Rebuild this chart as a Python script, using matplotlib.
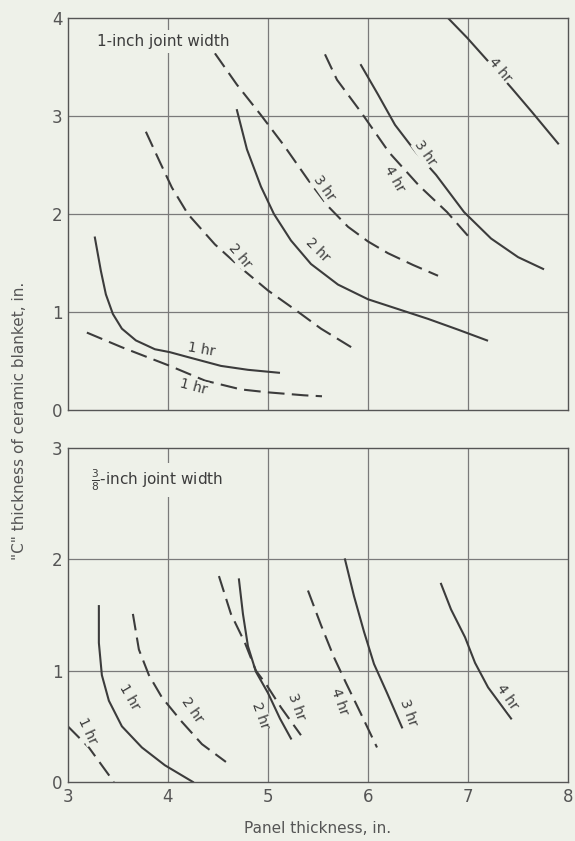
import numpy as np
import matplotlib
matplotlib.use("Agg")
import matplotlib.pyplot as plt

# ---- 1-inch joint width (top panel) ----
top_1hr_solid_x = [3.27, 3.33, 3.38, 3.45, 3.54, 3.68, 3.87, 4.02, 4.20, 4.53, 4.80, 5.11]
top_1hr_solid_y = [1.76, 1.42, 1.18, 0.98, 0.83, 0.71, 0.62, 0.59, 0.54, 0.45, 0.41, 0.38]
top_1hr_dash_x = [3.19, 3.54, 4.02, 4.37, 4.73, 5.00, 5.36, 5.54]
top_1hr_dash_y = [0.79, 0.64, 0.45, 0.30, 0.21, 0.18, 0.15, 0.14]
top_2hr_dash_x = [3.78, 3.92, 4.04, 4.20, 4.47, 4.73, 5.00, 5.29, 5.53, 5.85]
top_2hr_dash_y = [2.84, 2.53, 2.27, 2.00, 1.69, 1.45, 1.22, 1.01, 0.83, 0.63]
top_2hr_solid_x = [4.69, 4.79, 4.93, 5.06, 5.23, 5.43, 5.70, 6.00, 6.27, 6.60, 6.90, 7.19]
top_2hr_solid_y = [3.06, 2.66, 2.28, 2.00, 1.73, 1.49, 1.28, 1.13, 1.04, 0.93, 0.82, 0.71]
top_3hr_dash_x = [4.47, 4.69, 4.93, 5.16, 5.40, 5.60, 5.80, 6.00, 6.20, 6.45, 6.70]
top_3hr_dash_y = [3.64, 3.32, 3.01, 2.70, 2.35, 2.08, 1.87, 1.72, 1.60, 1.48, 1.37]
top_4hr_dash_x = [5.57, 5.69, 5.93, 6.21, 6.51, 6.79, 7.04]
top_4hr_dash_y = [3.63, 3.37, 3.04, 2.63, 2.29, 2.02, 1.73]
top_3hr_solid_x = [5.93, 6.10, 6.27, 6.48, 6.68, 6.96, 7.23, 7.50, 7.75]
top_3hr_solid_y = [3.52, 3.22, 2.91, 2.63, 2.40, 2.02, 1.75, 1.56, 1.44]
top_4hr_solid_x = [6.80, 6.99, 7.20, 7.44, 7.64, 7.90]
top_4hr_solid_y = [4.00, 3.80, 3.56, 3.28, 3.04, 2.72]

# ---- 3/8-inch joint width (bottom panel) ----
bot_1hr_dash_x = [3.00, 3.21, 3.46]
bot_1hr_dash_y = [0.50, 0.31, 0.00]
bot_1hr_solid_x = [3.31, 3.31, 3.34, 3.41, 3.54, 3.74, 3.97, 4.25]
bot_1hr_solid_y = [1.58, 1.25, 0.96, 0.73, 0.50, 0.31, 0.15, 0.00]
bot_2hr_dash_x = [3.65, 3.71, 3.81, 3.94, 4.14, 4.34, 4.58]
bot_2hr_dash_y = [1.51, 1.19, 0.96, 0.76, 0.54, 0.34, 0.18]
bot_3hr_dash_x = [4.51, 4.63, 4.77, 4.88, 4.98, 5.13, 5.33]
bot_3hr_dash_y = [1.85, 1.51, 1.25, 1.00, 0.88, 0.67, 0.42]
bot_2hr_solid_x = [4.71, 4.75, 4.80, 4.88, 5.00, 5.12, 5.23]
bot_2hr_solid_y = [1.82, 1.51, 1.22, 0.99, 0.80, 0.57, 0.39]
bot_4hr_dash_x = [5.40, 5.53, 5.66, 5.78, 5.92, 6.09]
bot_4hr_dash_y = [1.72, 1.41, 1.12, 0.89, 0.63, 0.31]
bot_3hr_solid_x = [5.77, 5.86, 5.96, 6.06, 6.19, 6.34]
bot_3hr_solid_y = [2.00, 1.67, 1.35, 1.06, 0.80, 0.49]
bot_4hr_solid_x = [6.73, 6.83, 6.97, 7.07, 7.20, 7.43]
bot_4hr_solid_y = [1.78, 1.55, 1.30, 1.07, 0.85, 0.57]

# curve labels: (x, y, text, rotation)
top_labels = [(4.33, 0.62, "1 hr", -10), (4.26, 0.24, "1 hr", -15),
              (4.72, 1.57, "2 hr", -50), (5.50, 1.63, "2 hr", -45),
              (5.56, 2.27, "3 hr", -55), (6.26, 2.36, "4 hr", -60),
              (6.57, 2.62, "3 hr", -55), (7.32, 3.47, "4 hr", -50)]
bot_labels = [(3.20, 0.46, "1 hr", -65), (3.62, 0.76, "1 hr", -60),
              (4.24, 0.65, "2 hr", -55), (4.93, 0.60, "2 hr", -70),
              (5.29, 0.68, "3 hr", -70), (5.71, 0.72, "4 hr", -70),
              (6.40, 0.62, "3 hr", -70), (7.39, 0.76, "4 hr", -55)]

bg = "#eef1e9"
ink = "#3c3c3c"
grid_c = "#7a7a7a"
txt_c = "#555555"
dash = (0, (8, 3.5))

fig = plt.figure(figsize=(5.75, 8.41), dpi=100, facecolor=bg)
ax1 = fig.add_axes([0.118, 0.5125, 0.870, 0.466], facecolor=bg)
ax2 = fig.add_axes([0.118, 0.0702, 0.870, 0.397], facecolor=bg)

def style(ax, ymax):
    ax.set_xlim(3, 8)
    ax.set_ylim(0, ymax)
    ax.set_xticks([3, 4, 5, 6, 7, 8])
    ax.set_yticks(range(0, ymax + 1))
    for v in [4, 5, 6, 7]:
        ax.axvline(v, color=grid_c, lw=0.9, zorder=0)
    for v in range(1, ymax):
        ax.axhline(v, color=grid_c, lw=0.9, zorder=0)
    for s in ax.spines.values():
        s.set_color("#555555")
        s.set_linewidth(1.0)
    ax.tick_params(length=0, labelsize=12, labelcolor=txt_c, pad=4)

style(ax1, 4)
style(ax2, 3)
ax1.set_xticklabels([])

lw = 1.5
ax1.plot(top_1hr_solid_x, top_1hr_solid_y, color=ink, lw=lw)
ax1.plot(top_1hr_dash_x, top_1hr_dash_y, color=ink, lw=lw, linestyle=dash)
ax1.plot(top_2hr_dash_x, top_2hr_dash_y, color=ink, lw=lw, linestyle=dash)
ax1.plot(top_2hr_solid_x, top_2hr_solid_y, color=ink, lw=lw)
ax1.plot(top_3hr_dash_x, top_3hr_dash_y, color=ink, lw=lw, linestyle=dash)
ax1.plot(top_4hr_dash_x, top_4hr_dash_y, color=ink, lw=lw, linestyle=dash)
ax1.plot(top_3hr_solid_x, top_3hr_solid_y, color=ink, lw=lw)
ax1.plot(top_4hr_solid_x, top_4hr_solid_y, color=ink, lw=lw)

ax2.plot(bot_1hr_dash_x, bot_1hr_dash_y, color=ink, lw=lw, linestyle=dash)
ax2.plot(bot_1hr_solid_x, bot_1hr_solid_y, color=ink, lw=lw)
ax2.plot(bot_2hr_dash_x, bot_2hr_dash_y, color=ink, lw=lw, linestyle=dash)
ax2.plot(bot_3hr_dash_x, bot_3hr_dash_y, color=ink, lw=lw, linestyle=dash)
ax2.plot(bot_2hr_solid_x, bot_2hr_solid_y, color=ink, lw=lw)
ax2.plot(bot_4hr_dash_x, bot_4hr_dash_y, color=ink, lw=lw, linestyle=dash)
ax2.plot(bot_3hr_solid_x, bot_3hr_solid_y, color=ink, lw=lw)
ax2.plot(bot_4hr_solid_x, bot_4hr_solid_y, color=ink, lw=lw)

for ax, labels in [(ax1, top_labels), (ax2, bot_labels)]:
    for x, y, t, r in labels:
        ax.text(x, y, t, rotation=r, ha="center", va="center", fontsize=10,
                color=ink, rotation_mode="anchor",
                bbox=dict(facecolor=bg, edgecolor="none", pad=0.5))

ax1.text(3.29, 3.76, "1-inch joint width", fontsize=11, color=ink, va="center",
         bbox=dict(facecolor=bg, edgecolor="none", pad=3))
ax2.text(3.23, 2.71, r"$\frac{3}{8}$-inch joint width", fontsize=11, color=ink,
         va="center", bbox=dict(facecolor=bg, edgecolor="none", pad=3))

fig.text(0.034, 0.50, '"C" thickness of ceramic blanket, in.', rotation=90,
         ha="center", va="center", fontsize=11, color=txt_c)
fig.text(0.553, 0.015, "Panel thickness, in.", ha="center", va="center",
         fontsize=11, color=txt_c)

fig.savefig("out.png", dpi=100, facecolor=bg)
